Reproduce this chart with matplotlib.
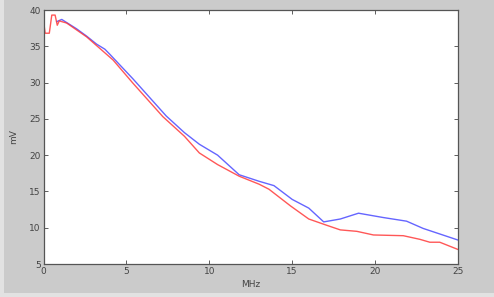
import matplotlib
matplotlib.use("Agg")
import matplotlib.pyplot as plt
from matplotlib.patches import Rectangle

# values (MHz vs mV)
blue_x = [0.8, 1.1, 2.0, 2.6, 3.2, 3.7, 4.0, 5.4, 7.4, 8.5, 9.4, 10.5, 11.8, 13.0, 13.9,
          15.0, 16.0, 16.9, 17.9, 19.0, 20.5, 21.9, 22.9, 25.0]
blue_y = [38.4, 38.7, 37.4, 36.4, 35.3, 34.6, 33.9, 30.5, 25.4, 23.1, 21.5, 20.0, 17.3, 16.4,
          15.8, 13.9, 12.7, 10.8, 11.2, 12.0, 11.4, 10.9, 9.9, 8.3]

red_x = [0.0, 0.1, 0.35, 0.5, 0.7, 0.83, 0.95, 1.4, 2.6, 3.4, 4.2, 5.4, 7.2, 8.5, 9.4,
         10.5, 11.8, 13.0, 13.6, 14.9, 16.0, 17.0, 17.9, 18.9, 19.9, 21.7, 22.7, 23.3,
         23.9, 25.0]
red_y = [38.5, 36.8, 36.8, 39.3, 39.3, 37.9, 38.5, 38.2, 36.3, 34.7, 33.1, 29.9, 25.3,
         22.6, 20.3, 18.7, 17.1, 16.0, 15.3, 13.0, 11.2, 10.4, 9.7, 9.5, 9.0, 8.9, 8.4,
         8.0, 8.0, 7.0]

x_ticks = [0, 5, 10, 15, 20, 25]
y_ticks = [5, 10, 15, 20, 25, 30, 35, 40]

fig = plt.figure(figsize=(4.94, 2.97), dpi=100, facecolor="#cbcbcb")
# lighter frame strips at the left and bottom
fig.patches.append(Rectangle((0, 0), 4 / 494, 1, transform=fig.transFigure,
                             facecolor="#e2e2e2", edgecolor="none", zorder=0))
fig.patches.append(Rectangle((0, 0), 1, 4 / 297, transform=fig.transFigure,
                             facecolor="#e2e2e2", edgecolor="none", zorder=0))

ax = fig.add_axes([43.5 / 494, 33 / 297, (458 - 43.5) / 494, (264 - 10) / 297])
ax.plot(blue_x, blue_y, color="#4a4aff", lw=1.0, alpha=0.85)
ax.plot(red_x, red_y, color="#ff3a3a", lw=1.0, alpha=0.85)

ax.set_xlim(0, 25)
ax.set_ylim(5, 40)
ax.set_xticks(x_ticks)
ax.set_yticks(y_ticks)
ax.tick_params(direction="in", top=True, right=True, length=3, width=0.6,
               labelsize=6.5, colors="#444444", labelcolor="#444444", pad=2)
for s in ax.spines.values():
    s.set_color("#555555")
    s.set_linewidth(0.9)

ax.set_xlabel("MHz", fontsize=6.5, color="#444444", labelpad=3)
ax.set_ylabel("mV", fontsize=6.5, color="#444444", labelpad=8)

fig.savefig("out.png", dpi=100, facecolor=fig.get_facecolor())
